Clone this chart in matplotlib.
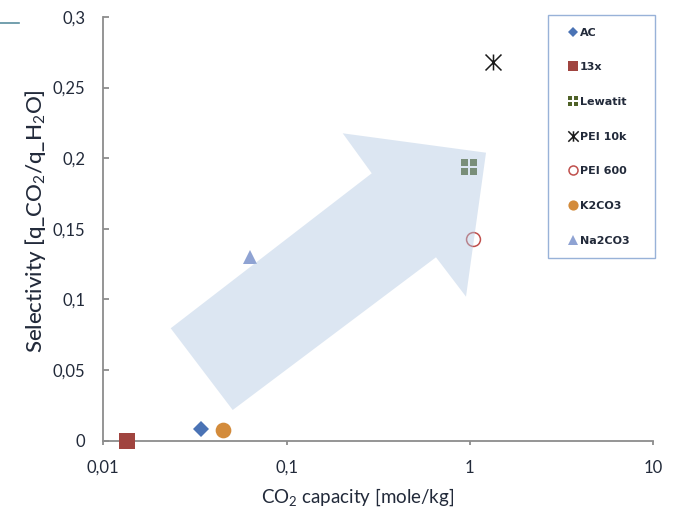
import numpy as np
import matplotlib
matplotlib.use("Agg")
import matplotlib.pyplot as plt
from matplotlib.path import Path
from matplotlib.patches import Polygon
from matplotlib.lines import Line2D

plt.rcParams['font.family'] = ['Lato', 'DejaVu Sans']
plt.rcParams['mathtext.fontset'] = 'custom'
plt.rcParams['mathtext.rm'] = 'Lato'
plt.rcParams['mathtext.it'] = 'Lato:italic'

# Sorbent data: CO2 capacity [mole/kg] and selectivity
materials = ['AC', '13x', 'Lewatit', 'PEI 10k', 'PEI 600', 'K2CO3', 'Na2CO3']
capacity = [0.034, 0.0134, 0.995, 1.345, 1.047, 0.045, 0.063]
selectivity = [0.0085, 0.0, 0.194, 0.268, 0.1425, 0.0075, 0.130]

x_ticks = [0.01, 0.1, 1, 10]
x_labels = ['0,01', '0,1', '1', '10']
y_ticks = [0, 0.05, 0.1, 0.15, 0.2, 0.25, 0.3]
y_labels = ['0', '0,05', '0,1', '0,15', '0,2', '0,25', '0,3']

# 2x2 block marker for Lewatit
g = 0.07
blocks = []
for x0, y0 in [(-0.5, -0.5), (g, -0.5), (-0.5, g), (g, g)]:
    w = 0.5 - g
    blocks.append(Path([(x0, y0), (x0 + w, y0), (x0 + w, y0 + w), (x0, y0 + w), (x0, y0)],
                       [Path.MOVETO, Path.LINETO, Path.LINETO, Path.LINETO, Path.CLOSEPOLY]))
grid_marker = Path.make_compound_path(*blocks)

# asterisk-like star: X plus vertical stroke
star_marker = Path([(-0.5, -0.5), (0.5, 0.5), (-0.5, 0.5), (0.5, -0.5), (0, -0.5), (0, 0.5)],
                   [Path.MOVETO, Path.LINETO, Path.MOVETO, Path.LINETO, Path.MOVETO, Path.LINETO])

styles = {
    'AC':      dict(marker='D', ms=8.0, mfc='#4A73B5', mec='#4A73B5', mew=0),
    '13x':     dict(marker='s', ms=11.3, mfc='#A0443F', mec='#A0443F', mew=0),
    'Lewatit': dict(marker=grid_marker, ms=12.0, mfc='#4F6228', mec='#4F6228', mew=0),
    'PEI 10k': dict(marker=star_marker, ms=11.5, mfc='none', mec='#1A1A1A', mew=1.1),
    'PEI 600': dict(marker='o', ms=10.0, mfc='white', mec='#C0504D', mew=1.1),
    'K2CO3':   dict(marker='o', ms=11.3, mfc='#D38B3B', mec='#D38B3B', mew=0),
    'Na2CO3':  dict(marker='^', ms=10.5, mfc='#8FA3D3', mec='#8FA3D3', mew=0),
}

fig = plt.figure(figsize=(6.73, 5.18), dpi=100)
ax = fig.add_axes([0.1535, 0.1496, 0.8168, 0.8176])

handles = []
for name, xv, yv in zip(materials, capacity, selectivity):
    h, = ax.plot([xv], [yv], linestyle='none', zorder=3, clip_on=False, **styles[name])
    handles.append(h)

ax.set_xscale('log')
ax.set_xlim(0.01, 10)
ax.set_ylim(0, 0.3)
ax.set_xticks(x_ticks)
ax.set_xticklabels(x_labels)
ax.set_yticks(y_ticks)
ax.set_yticklabels(y_labels)
ax.minorticks_off()

axis_grey = '#8C8C8C'
text_col = '#222A3A'
for side in ['top', 'right']:
    ax.spines[side].set_visible(False)
for side in ['left', 'bottom']:
    ax.spines[side].set_color(axis_grey)
    ax.spines[side].set_linewidth(1.3)
ax.tick_params(axis='y', direction='in', length=4, width=1.3, color=axis_grey,
               labelsize=12, labelcolor=text_col, pad=13)
ax.tick_params(axis='x', direction='out', length=3, width=1.3, color=axis_grey,
               labelsize=12, labelcolor=text_col, pad=11)

ax.set_xlabel('CO$_2$ capacity [mole/kg]', fontsize=13.5, color=text_col, va='center')
ax.xaxis.set_label_coords(0.463, -0.133)
ax.set_ylabel('Selectivity [q_CO$_2$/q_H$_2$O]', fontsize=16, fontweight='medium',
              color=text_col, va='center')
ax.yaxis.set_label_coords(-0.124, 0.518)

# translucent trend arrow drawn over the markers
arrow_pts = [(0.1226, 0.265), (0.2354, 0.072), (0.6052, 0.4326), (0.6598, 0.3396),
             (0.6962, 0.6796), (0.4355, 0.7254), (0.4883, 0.6309)]
ax.add_patch(Polygon(arrow_pts, closed=True, transform=ax.transAxes,
                     facecolor=(176/255, 199/255, 226/255), alpha=0.44,
                     edgecolor='none', zorder=4, clip_on=False))

leg = fig.legend(handles, materials, loc='upper left',
                 bbox_to_anchor=(0.8143, 0.5097, 0.159, 0.4614), mode='expand',
                 frameon=True, fancybox=False, edgecolor='#7F9FCF',
                 prop={'family': 'DejaVu Sans', 'weight': 'bold', 'size': 8},
                 markerscale=0.65, labelspacing=2.22, borderpad=1.13,
                 handlelength=2.15, handletextpad=-0.4, borderaxespad=0)
leg.get_frame().set_linewidth(1.0)
for t in leg.get_texts():
    t.set_color(text_col)

fig.add_artist(Line2D([0, 0.028], [0.9556, 0.9556], color='#5B8FA0', lw=1.2))

fig.savefig('out.png', dpi=100)
